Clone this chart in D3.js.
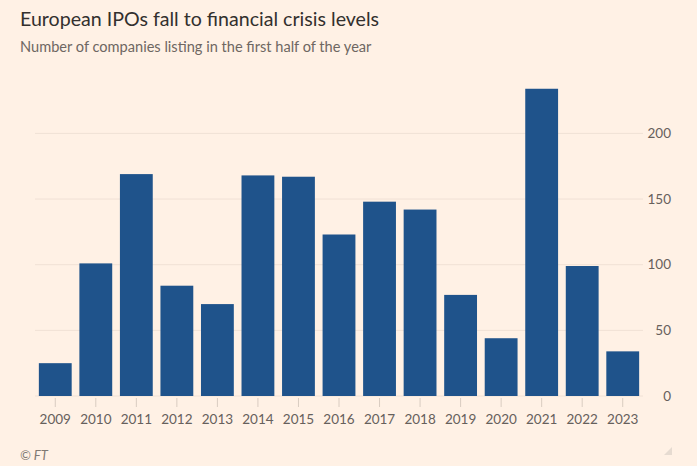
<!DOCTYPE html>
<html><head><meta charset="utf-8">
<script src="https://cdn.jsdelivr.net/npm/d3@7"></script>
<style>
html,body{margin:0;padding:0;background:#fff1e5;}
svg{display:block;}
</style></head>
<body>
<script>
const years = ["2009","2010","2011","2012","2013","2014","2015","2016","2017","2018","2019","2020","2021","2022","2023"];
const listings = [25,101,169,84,70,168,167,123,148,142,77,44,234,99,34];
const yTicks = [0,50,100,150,200];
const title = "European IPOs fall to financial crisis levels";
const subtitle = "Number of companies listing in the first half of the year";
const source = "© FT";

const W = 697, H = 466;
const svg = d3.select("body").append("svg").attr("width", W).attr("height", H);
svg.append("rect").attr("width", W).attr("height", H).attr("fill", "#fff1e5");

const font = "Lato, 'Open Sans', sans-serif";

svg.append("text").attr("x", 20).attr("y", 26)
  .attr("font-family", font).attr("font-size", 19.6).attr("fill", "#33302e")
  .text(title);
svg.append("text").attr("x", 20).attr("y", 52)
  .attr("font-family", font).attr("font-size", 14.6).attr("fill", "#6e6762")
  .text(subtitle);

const x = d3.scaleBand().domain(years).range([35, 643]).paddingInner(0.19).paddingOuter(0.095);
const y = d3.scaleLinear().domain([0, 200]).range([396, 133.4]);

// gridlines
svg.append("g").selectAll("line").data(yTicks).join("line")
  .attr("x1", 35).attr("x2", 643)
  .attr("y1", d => y(d)).attr("y2", d => y(d))
  .attr("stroke", "#f0e1d5").attr("stroke-width", 1);

// y labels
svg.append("g").selectAll("text").data(yTicks).join("text")
  .attr("x", 671).attr("y", d => y(d)).attr("dy", "0.35em")
  .attr("text-anchor", "end")
  .attr("font-family", font).attr("font-size", 13.5).attr("fill", "#66605c")
  .text(d => d);

// bars
svg.append("g").selectAll("rect").data(years).join("rect")
  .attr("x", d => x(d)).attr("width", x.bandwidth())
  .attr("y", (d, i) => y(listings[i]))
  .attr("height", (d, i) => y(0) - y(listings[i]))
  .attr("fill", "#1f538b");

// x axis
const xAxis = d3.axisBottom(x).tickSize(9).tickPadding(7).tickSizeOuter(0);
const gx = svg.append("g").attr("transform", "translate(0,398)").call(xAxis);
gx.select(".domain").remove();
gx.selectAll(".tick line").attr("stroke", "#d9ccc1");
gx.selectAll(".tick text").attr("font-family", font).attr("font-size", 13.5).attr("fill", "#66605c");

svg.append("text").attr("x", 20).attr("y", 460)
  .attr("font-family", font).attr("font-style", "italic").attr("font-size", 13).attr("fill", "#807973")
  .text(source);

// corner mark
svg.append("path").attr("d", "M672,447 L672,455 L664,455 Z").attr("fill", "#e6dbd1");
</script>
</body></html>
